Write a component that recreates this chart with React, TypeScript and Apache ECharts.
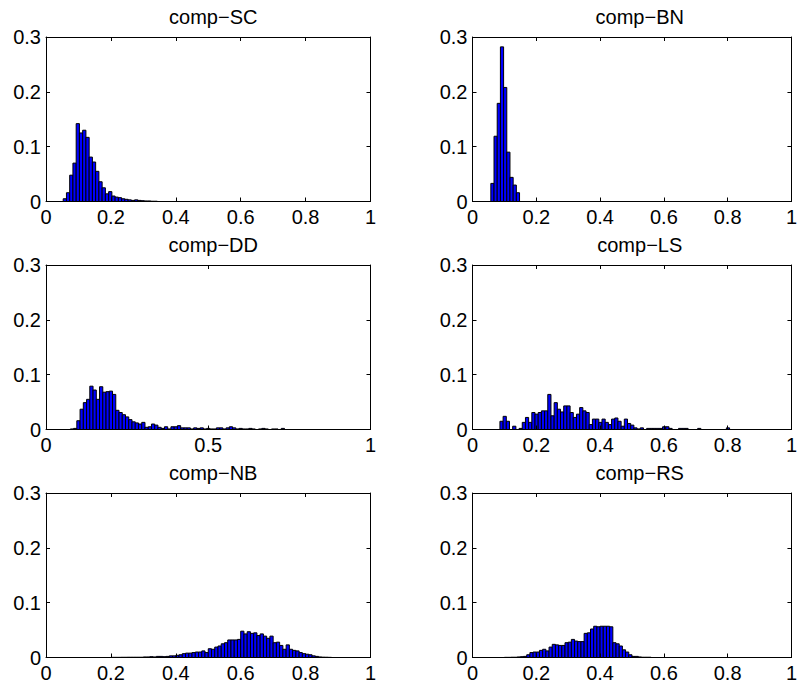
import React, { useEffect, useRef } from "react";
import * as echarts from "echarts";

// ---- data ----
const BIN_WIDTH = 0.01;
const TITLES = ["comp−SC", "comp−BN", "comp−DD", "comp−LS", "comp−NB", "comp−RS"];
const X_INTERVALS = [0.2, 0.2, 0.5, 0.2, 0.2, 0.2];
const Y_MAX = 0.3;
const Y_INTERVAL = 0.1;

const SC_START = 0.053;
const SC_VALUES = [
  0.005, 0.016, 0.048, 0.07, 0.142, 0.125, 0.13, 0.117, 0.081, 0.072, 0.055, 0.036, 0.025, 0.014,
  0.018, 0.01, 0.008, 0.007, 0.005, 0.004, 0.003, 0.002, 0.003, 0.002, 0.0015, 0.001, 0.001, 0.0005,
  0.0005,
];

const BN_START = 0.0575;
const BN_VALUES = [0.033, 0.119, 0.179, 0.282, 0.208, 0.09, 0.044, 0.03, 0.016];

const DD_START = 0.075;
const DD_VALUES = [
  0.001, 0.002, 0.016, 0.037, 0.049, 0.055, 0.079, 0.072, 0.055, 0.078, 0.068, 0.069, 0.07, 0.064,
  0.035, 0.031, 0.027, 0.023, 0.018, 0.014, 0.012, 0.01, 0.013, 0.004, 0.005, 0.01, 0.008, 0.004,
  0.002, 0.005, 0.001, 0.005, 0.005, 0.007, 0.003, 0.003, 0.003, 0.001, 0.003, 0.002, 0.003, 0.001,
  0.002, 0.001, 0.001, 0.003, 0.003, 0.001, 0.003, 0.005, 0.003, 0.001, 0.002, 0.001, 0.001, 0.002,
  0.001, 0, 0.001, 0.002, 0.001, 0, 0.001, 0.001, 0, 0.002,
];

const LS_START = 0.086;
const LS_VALUES = [
  0.015, 0.024, 0.015, 0, 0.006, 0, 0.002, 0.013, 0.022, 0.013, 0.031, 0.028, 0.031, 0.034, 0.034,
  0.064, 0.025, 0.049, 0.037, 0.032, 0.043, 0.043, 0.031, 0.022, 0.028, 0.04, 0.034, 0.031, 0.009,
  0.019, 0.019, 0.013, 0.019, 0.013, 0.009, 0.019, 0.021, 0.015, 0.006, 0.019, 0.011, 0.008, 0.003,
  0.001, 0.003, 0, 0.002, 0.002, 0.002, 0.002, 0.002, 0.005, 0.005, 0.002, 0, 0, 0.002, 0.002,
  0.002, 0, 0, 0, 0.002, 0, 0, 0, 0, 0, 0, 0, 0, 0.003,
];

const NB_START = 0.2;
const NB_VALUES = [
  0.0003, 0.0003, 0.0003, 0.0004, 0.0004, 0.0005, 0.0005, 0.0005, 0.0005, 0.0005, 0.001, 0.001,
  0.0015, 0.001, 0.002, 0.002, 0.0015, 0.002, 0.003, 0.003, 0.004, 0.005, 0.007, 0.008, 0.008,
  0.009, 0.01, 0.01, 0.012, 0.009, 0.016, 0.015, 0.019, 0.021, 0.025, 0.027, 0.032, 0.032, 0.032,
  0.033, 0.048, 0.043, 0.047, 0.044, 0.045, 0.04, 0.043, 0.039, 0.035, 0.039, 0.027, 0.028, 0.022,
  0.015, 0.023, 0.015, 0.013, 0.012, 0.009, 0.007, 0.006, 0.005, 0.003, 0.002, 0.001, 0.0006,
  0.0005, 0.0003,
];

const RS_START = 0.1;
const RS_VALUES = [
  0.0003, 0.0003, 0.0005, 0.0005, 0.001, 0.0015, 0.002, 0.005, 0.009, 0.01, 0.01, 0.013, 0.015,
  0.012, 0.019, 0.024, 0.023, 0.022, 0.022, 0.027, 0.028, 0.033, 0.03, 0.029, 0.029, 0.044, 0.045,
  0.052, 0.057, 0.056, 0.057, 0.057, 0.057, 0.056, 0.027, 0.025, 0.021, 0.014, 0.01, 0.005, 0.002,
  0.002, 0.001, 0.0005, 0.0005, 0.0005,
];

const PANELS = [
  { start: SC_START, values: SC_VALUES },
  { start: BN_START, values: BN_VALUES },
  { start: DD_START, values: DD_VALUES },
  { start: LS_START, values: LS_VALUES },
  { start: NB_START, values: NB_VALUES },
  { start: RS_START, values: RS_VALUES },
];

// ---- layout / style ----
const FONT = "'Liberation Sans', Arial, Helvetica, sans-serif";
const COL_LEFT = [46, 472.5];
const ROW_TOP = [37, 265, 493];
const PLOT_W = 324.5;
const PLOT_H = 164.5;

function buildOption() {
  const grids: any[] = [];
  const xAxes: any[] = [];
  const yAxes: any[] = [];
  const series: any[] = [];
  const titles: any[] = [];

  PANELS.forEach((p, i) => {
    const col = i % 2;
    const row = Math.floor(i / 2);
    const left = COL_LEFT[col];
    const top = ROW_TOP[row];
    grids.push({ left, top, width: PLOT_W, height: PLOT_H, containLabel: false });
    titles.push({
      text: TITLES[i],
      left: left + PLOT_W / 2,
      top: top - 35,
      textAlign: "center",
      textStyle: { fontFamily: FONT, fontSize: 20, fontWeight: "normal", color: "#000" },
    });
    const axisCommon = {
      gridIndex: i,
      type: "value",
      axisLine: { show: true, onZero: false, lineStyle: { color: "#000", width: 1 } },
      axisTick: { show: true, inside: true, length: 4, lineStyle: { color: "#000", width: 1 } },
      splitLine: { show: false },
      z: 3,
    };
    xAxes.push({
      ...axisCommon,
      position: "bottom",
      min: 0,
      max: 1,
      interval: X_INTERVALS[i],
      axisLabel: { color: "#000", fontFamily: FONT, fontSize: 20, margin: 5 },
    });
    xAxes.push({
      ...axisCommon,
      position: "top",
      min: 0,
      max: 1,
      interval: X_INTERVALS[i],
      axisLabel: { show: false },
    });
    yAxes.push({
      ...axisCommon,
      position: "left",
      min: 0,
      max: Y_MAX,
      interval: Y_INTERVAL,
      axisLabel: { color: "#000", fontFamily: FONT, fontSize: 20, margin: 5 },
    });
    yAxes.push({
      ...axisCommon,
      position: "right",
      min: 0,
      max: Y_MAX,
      interval: Y_INTERVAL,
      axisLabel: { show: false },
    });
    const data = p.values.map((v, k) => [p.start + k * BIN_WIDTH, p.start + (k + 1) * BIN_WIDTH, v]);
    series.push({
      type: "custom",
      xAxisIndex: 2 * i,
      yAxisIndex: 2 * i,
      data,
      encode: { x: [0, 1], y: 2 },
      renderItem: (params: any, api: any) => {
        const p0 = api.coord([api.value(0), api.value(2)]);
        const p1 = api.coord([api.value(1), 0]);
        return {
          type: "rect",
          shape: { x: p0[0], y: p0[1], width: p1[0] - p0[0], height: p1[1] - p0[1] },
          style: { fill: "#0000ff", stroke: "#000000", lineWidth: 1 },
        };
      },
    });
  });

  return {
    animation: false,
    backgroundColor: "#ffffff",
    title: titles,
    grid: grids,
    xAxis: xAxes,
    yAxis: yAxes,
    series,
  };
}

export default function App() {
  const ref = useRef<HTMLDivElement>(null);
  useEffect(() => {
    if (!ref.current) return;
    const chart = echarts.init(ref.current, undefined, { renderer: "svg" });
    chart.setOption(buildOption() as any);
    return () => chart.dispose();
  }, []);
  return (
    <div
      ref={ref}
      style={{ position: "fixed", left: 0, top: 0, width: 800, height: 687, background: "#fff" }}
    />
  );
}
